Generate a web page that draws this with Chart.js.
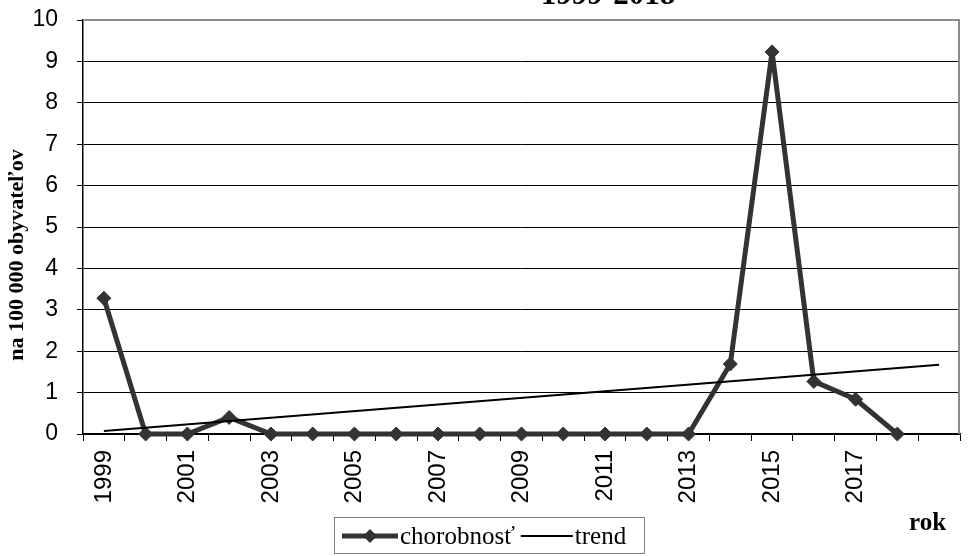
<!DOCTYPE html>
<html>
<head>
<meta charset="utf-8">
<script src="https://cdn.jsdelivr.net/npm/chart.js@4"></script>
<style>
  html, body { margin: 0; padding: 0; background: #fff; }
  canvas { display: block; }
</style>
</head>
<body>
<canvas id="chart" width="968" height="556"></canvas>
<script>
var years = ['1999','2000','2001','2002','2003','2004','2005','2006','2007','2008',
             '2009','2010','2011','2012','2013','2014','2015','2016','2017','2018',''];
var chorobnost = [3.28, 0, 0, 0.4, 0, 0, 0, 0, 0, 0,
                  0, 0, 0, 0, 0, 1.69, 9.23, 1.27, 0.84, 0, null];
var trend = [0.07, null, null, null, null, null, null, null, null, null,
             null, null, null, null, null, null, null, null, null, null, 1.67];
var yTicks = [0, 1, 2, 3, 4, 5, 6, 7, 8, 9, 10];

var titleText = '1999-2018';
var yTitle = 'na 100 000 obyvateľov';
var xTitle = 'rok';
var legendNames = ['chorobnosť', 'trend'];

var serif = '"Liberation Serif", "Times New Roman", serif';
var sans = '"Liberation Sans", Arial, sans-serif';

var extras = {
    id: 'extras',
    afterDraw: function(chart) {
        var ctx = chart.ctx;
        var area = chart.chartArea;
        ctx.save();
        // plot frame (top / right)
        ctx.strokeStyle = '#8c8c8c';
        ctx.lineWidth = 2;
        ctx.beginPath();
        ctx.moveTo(area.left, area.top);
        ctx.lineTo(area.right - 1, area.top);
        ctx.lineTo(area.right - 1, area.bottom);
        ctx.stroke();

        // title, cut by top edge
        ctx.fillStyle = '#000';
        ctx.font = 'bold 31px ' + serif;
        ctx.textAlign = 'center';
        ctx.textBaseline = 'alphabetic';
        ctx.fillText(titleText, 608, 4);

        // y title
        ctx.save();
        ctx.translate(17, 255);
        ctx.rotate(-Math.PI / 2);
        ctx.font = 'bold 22px ' + serif;
        ctx.textBaseline = 'middle';
        ctx.fillText(yTitle, 0, 0);
        ctx.restore();

        // x title
        ctx.font = 'bold 25px ' + serif;
        ctx.textAlign = 'left';
        ctx.fillText(xTitle, 909, 530);

        // legend
        var bx = 334, by = 517, bw = 310, bh = 36;
        ctx.strokeStyle = '#808080';
        ctx.lineWidth = 1;
        ctx.strokeRect(bx + 0.5, by + 0.5, bw, bh);
        var cy = by + bh / 2 + 1;
        var x = bx + 8;
        ctx.strokeStyle = '#333';
        ctx.lineWidth = 5;
        ctx.beginPath();
        ctx.moveTo(x, cy);
        ctx.lineTo(x + 56, cy);
        ctx.stroke();
        ctx.fillStyle = '#333';
        ctx.beginPath();
        ctx.moveTo(x + 28, cy - 7);
        ctx.lineTo(x + 35, cy);
        ctx.lineTo(x + 28, cy + 7);
        ctx.lineTo(x + 21, cy);
        ctx.closePath();
        ctx.fill();
        x += 58;
        ctx.fillStyle = '#000';
        ctx.font = '25px ' + serif;
        ctx.textBaseline = 'alphabetic';
        ctx.fillText(legendNames[0], x, by + 27);
        x += ctx.measureText(legendNames[0]).width + 6;
        ctx.strokeStyle = '#000';
        ctx.lineWidth = 2;
        ctx.beginPath();
        ctx.moveTo(x, cy);
        ctx.lineTo(x + 52, cy);
        ctx.stroke();
        x += 54;
        ctx.fillText(legendNames[1], x, by + 27);
        ctx.restore();
    }
};

function noPad(scale) {
    scale.paddingLeft = 0;
    scale.paddingRight = 0;
    scale.paddingTop = 0;
    scale.paddingBottom = 0;
}

var ctx = document.getElementById('chart').getContext('2d');
var chart = new Chart(ctx, {
    type: 'line',
    data: {
        labels: years,
        datasets: [{
            label: legendNames[0],
            data: chorobnost,
            borderColor: '#333333',
            backgroundColor: '#333333',
            borderWidth: 5,
            borderJoinStyle: 'round',
            pointStyle: 'rectRot',
            pointRadius: 7,
            pointBackgroundColor: '#333333',
            pointBorderColor: '#333333',
            pointBorderWidth: 1,
            tension: 0,
            clip: false,
            order: 2
        }, {
            label: legendNames[1],
            data: trend,
            borderColor: '#000000',
            borderWidth: 2,
            pointRadius: 0,
            spanGaps: true,
            tension: 0,
            clip: false,
            order: 1
        }]
    },
    options: {
        responsive: false,
        animation: false,
        devicePixelRatio: 1,
        layout: { padding: { left: 0, right: 0, top: 20, bottom: 0 } },
        plugins: {
            legend: { display: false },
            title: { display: false },
            tooltip: { enabled: false }
        },
        scales: {
            x: {
                type: 'category',
                offset: true,
                afterFit: function(scale) { scale.height = 122; noPad(scale); },
                grid: {
                    offset: true,
                    drawOnChartArea: false,
                    drawTicks: true,
                    tickLength: 7,
                    color: '#000'
                },
                border: { display: true, color: '#000', width: 1.5 },
                ticks: {
                    autoSkip: false,
                    maxRotation: 90,
                    minRotation: 90,
                    padding: 9,
                    color: '#000',
                    font: { family: sans, size: 24 },
                    callback: function(val, index) {
                        return index % 2 === 0 ? this.getLabelForValue(val) : '';
                    }
                }
            },
            y: {
                min: 0,
                max: 10,
                afterFit: function(scale) { scale.width = 83; noPad(scale); },
                afterBuildTicks: function(scale) {
                    scale.ticks = yTicks.map(function(v) { return { value: v }; });
                },
                grid: {
                    color: '#000',
                    lineWidth: 1,
                    drawTicks: true,
                    tickLength: 6
                },
                border: { display: true, color: '#000', width: 1.5 },
                ticks: {
                    padding: 19,
                    color: '#000',
                    font: { family: sans, size: 23 }
                }
            }
        }
    },
    plugins: [extras]
});
</script>
</body>
</html>
